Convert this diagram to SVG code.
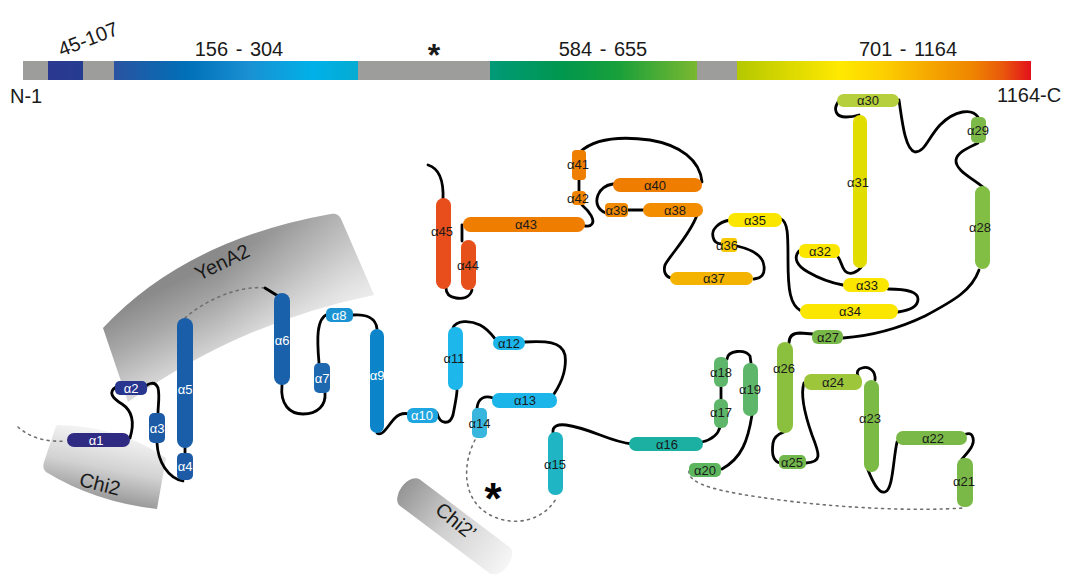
<svg xmlns="http://www.w3.org/2000/svg" width="1066" height="574" viewBox="0 0 1066 574">
  <defs>
    <linearGradient id="gBlue" x1="114" y1="0" x2="358" y2="0" gradientUnits="userSpaceOnUse">
      <stop offset="0" stop-color="#2a53a0"/>
      <stop offset="0.3" stop-color="#0070b8"/>
      <stop offset="0.55" stop-color="#1a90d2"/>
      <stop offset="0.82" stop-color="#00b1e8"/>
      <stop offset="1" stop-color="#05abd2"/>
    </linearGradient>
    <linearGradient id="gNavy" x1="48" y1="0" x2="83" y2="0" gradientUnits="userSpaceOnUse">
      <stop offset="0" stop-color="#2c3890"/>
      <stop offset="1" stop-color="#243c8f"/>
    </linearGradient>
    <linearGradient id="gGreen" x1="490" y1="0" x2="697" y2="0" gradientUnits="userSpaceOnUse">
      <stop offset="0" stop-color="#009a78"/>
      <stop offset="0.35" stop-color="#00974e"/>
      <stop offset="0.62" stop-color="#19a03a"/>
      <stop offset="1" stop-color="#7ab830"/>
    </linearGradient>
    <linearGradient id="gWarm" x1="737" y1="0" x2="1031" y2="0" gradientUnits="userSpaceOnUse">
      <stop offset="0" stop-color="#b3c800"/>
      <stop offset="0.18" stop-color="#dcd900"/>
      <stop offset="0.35" stop-color="#ffe900"/>
      <stop offset="0.5" stop-color="#fccf00"/>
      <stop offset="0.66" stop-color="#f5a600"/>
      <stop offset="0.8" stop-color="#ef8500"/>
      <stop offset="0.9" stop-color="#e95a0c"/>
      <stop offset="1" stop-color="#e3101b"/>
    </linearGradient>
    <linearGradient id="gYen" x1="146" y1="296" x2="212" y2="430" gradientUnits="userSpaceOnUse">
      <stop offset="0" stop-color="#8a8a8a"/>
      <stop offset="0.25" stop-color="#a9a9a9"/>
      <stop offset="0.55" stop-color="#d6d6d6"/>
      <stop offset="0.8" stop-color="#f4f4f4"/>
      <stop offset="1" stop-color="#ffffff"/>
    </linearGradient>
    <linearGradient id="gYenFade" x1="220" y1="0" x2="345" y2="0" gradientUnits="userSpaceOnUse">
      <stop offset="0" stop-color="#ffffff" stop-opacity="0"/>
      <stop offset="1" stop-color="#ffffff" stop-opacity="0.3"/>
    </linearGradient>
    <linearGradient id="gChi" x1="112" y1="428" x2="96" y2="507" gradientUnits="userSpaceOnUse">
      <stop offset="0" stop-color="#f8f8f8"/>
      <stop offset="0.5" stop-color="#d2d2d2"/>
      <stop offset="1" stop-color="#8a8a8a"/>
    </linearGradient>
    <linearGradient id="gChiP" x1="0" y1="0" x2="1" y2="0">
      <stop offset="0" stop-color="#959595"/>
      <stop offset="0.45" stop-color="#d0d0d0"/>
      <stop offset="1" stop-color="#f6f6f6"/>
    </linearGradient>
    <style>
      .lbl { font-family: "Liberation Sans", Arial, sans-serif; font-size: 13px; text-anchor: middle; }
      .w { fill: #ffffff; }
      .k { fill: #1a1a1a; }
      .big { font-family: "Liberation Sans", Arial, sans-serif; font-size: 20px; fill: #1a1a1a; }
      .link { fill: none; stroke: #000000; stroke-width: 2.8; stroke-linecap: round; }
      .dot { fill: none; stroke: #6f6f6f; stroke-width: 1.6; stroke-dasharray: 2 4.5; stroke-linecap: round; }
    </style>
  </defs>

  <rect width="1066" height="574" fill="#ffffff"/>

  <!-- sequence bar -->
  <g id="bar">
    <rect x="23" y="61" width="25" height="19" fill="#9d9d9c"/>
    <rect x="48" y="61" width="35" height="19" fill="url(#gNavy)"/>
    <rect x="83" y="61" width="31" height="19" fill="#9d9d9c"/>
    <rect x="114" y="61" width="244" height="19" fill="url(#gBlue)"/>
    <rect x="358" y="61" width="132" height="19" fill="#9d9d9c"/>
    <rect x="490" y="61" width="207" height="19" fill="url(#gGreen)"/>
    <rect x="697" y="61" width="40" height="19" fill="#9d9d9c"/>
    <rect x="737" y="61" width="294" height="19" fill="url(#gWarm)"/>
    <text class="big" x="88" y="46" text-anchor="middle" transform="rotate(-21 88 39)">45-107</text>
    <text class="big" x="239" y="56" text-anchor="middle" word-spacing="2">156 - 304</text>
    <text x="434" y="66" text-anchor="middle" font-family="Liberation Sans, Arial, sans-serif" font-size="32" font-weight="bold" fill="#1a1a1a">*</text>
    <text class="big" x="603" y="56" text-anchor="middle" word-spacing="2">584 - 655</text>
    <text class="big" x="908" y="56" text-anchor="middle" word-spacing="2">701 - 1164</text>
    <text class="big" x="10" y="103">N-1</text>
    <text class="big" x="997" y="102">1164-C</text>
  </g>

  <!-- binding partners -->
  <g id="yena2">
    <path d="M103,328 Q185,240 331,214 Q338,213 341,219 L374,295 Q240,322 128,402 Z" fill="url(#gYen)"/>
    <path d="M103,328 Q185,240 331,214 Q338,213 341,219 L374,295 Q240,322 128,402 Z" fill="url(#gYenFade)"/>
    <text class="big" x="222" y="269" font-size="21" text-anchor="middle" transform="rotate(-26 222 262)">YenA2</text>
  </g>
  <g id="chi2">
    <path d="M58,425 Q120,426 166,458 L157,509 Q95,502 46,472 Q42,468 44,462 L55,429 Q56,425 58,425 Z" fill="url(#gChi)"/>
    <text class="big" x="100" y="491" font-size="21" text-anchor="middle" transform="rotate(14 100 484)">Chi2</text>
  </g>
  <g id="chi2p">
    <rect x="-66" y="-16" width="132" height="33" rx="10" ry="16" fill="url(#gChiP)" transform="translate(455,526) rotate(37)"/>
    <text class="big" x="456" y="528" font-size="21" text-anchor="middle" transform="rotate(39 456 521)">Chi2’</text>
  </g>

  <!-- loops between helices -->
  <g id="connectors">
    <path class="dot" d="M18,427 Q36,443 66,441"/>
    <path class="link" d="M130,438 C134,425 134,412 122,404 C112,398 108,392 116,387"/>
    <path class="link" d="M143,391 C146,383 155,380 158,388 C160,396 158,405 158,413"/>
    <path class="link" d="M157,443 C158,462 168,478 183,481"/>
    <path class="link" d="M185,447 L185,454"/>
    <path class="dot" d="M185,318 C205,300 240,285 265,288"/>
    <path class="link" d="M265,288 L278,296"/>
    <path class="link" d="M282,385 C280,405 290,414 303,414 C318,414 326,405 325,393"/>
    <path class="link" d="M319,363 C317,340 316,318 328,314"/>
    <path class="link" d="M353,315 C366,314 376,318 377,329"/>
    <path class="link" d="M377,433 C383,437 388,425 395,418 C400,413 405,413 409,414"/>
    <path class="link" d="M437,413 C440,425 450,425 453,415 C455,405 457,395 457,390"/>
    <path class="link" d="M453,328 C456,320 470,320 480,325 C488,329 492,335 496,340"/>
    <path class="link" d="M525,342 C545,341 562,341 565,355 C567,370 560,385 554,394"/>
    <path class="link" d="M493,398 C485,395 478,398 477,408"/>
    <path class="dot" d="M475,440 C462,465 462,500 490,515 C515,528 545,520 557,497"/>
    <path class="link" d="M553,433 C552,426 558,424 566,425 C590,428 610,442 632,444"/>
    <path class="link" d="M702,442 C710,440 718,435 720,427"/>
    <path class="link" d="M721,386 L721,400"/>
    <path class="link" d="M727,359 C728,350 745,349 750,356 L751,363"/>
    <path class="link" d="M752,415 C748,440 742,458 722,469"/>
    <path class="dot" d="M689,471 C688,485 720,492 780,500 C850,509 920,511 963,508"/>
    <path class="link" d="M962,459 C968,452 975,445 973,438 C972,434 970,433 966,434"/>
    <path class="link" d="M897,442 C893,460 893,490 885,492 C878,494 872,480 868,470"/>
    <path class="link" d="M875,380 C876,370 868,366 862,368 C858,369 856,372 858,376"/>
    <path class="link" d="M804,383 C800,395 805,415 812,435 C820,455 822,462 806,463"/>
    <path class="link" d="M780,463 C772,461 772,450 773,443 C774,437 778,434 784,432"/>
    <path class="link" d="M789,343 C789,336 793,333 800,333 L813,334"/>
    <path class="link" d="M843,338 C870,336 900,328 925,316 C955,300 972,290 979,270"/>
    <path class="link" d="M983,187 C972,178 955,170 956,160 C957,152 970,147 978,143"/>
    <path class="link" d="M978,117 C972,108 955,110 940,125 C928,138 925,152 915,152 C905,150 902,120 899,100"/>
    <path class="link" d="M838,102 C833,110 836,117 846,117 C852,117 856,116 859,115"/>
    <path class="link" d="M862,266 C858,272 850,276 845,271 C841,266 841,260 838,257"/>
    <path class="link" d="M799,251 C793,258 797,266 808,272 C820,279 832,283 843,285"/>
    <path class="link" d="M888,289 C905,289 918,291 918,299 C918,307 910,310 898,312"/>
    <path class="link" d="M781,219 C788,222 788,235 788,260 C788,290 790,305 801,311"/>
    <path class="link" d="M730,220 C718,222 711,230 713,237 C714,242 718,244 722,244"/>
    <path class="link" d="M737,246 C750,249 763,255 764,266 C765,274 762,278 754,279"/>
    <path class="link" d="M697,215 C690,235 670,255 665,265 C663,272 666,277 671,278"/>
    <path class="link" d="M628,210 L643,210"/>
    <path class="link" d="M606,213 C598,210 595,203 598,195 C601,188 606,185 613,184"/>
    <path class="link" d="M702,182 C700,160 680,145 650,140 C620,136 595,138 580,152"/>
    <path class="link" d="M579,180 L579,191"/>
    <path class="link" d="M582,205 C590,212 595,220 592,224 C590,227 588,226 585,226"/>
    <path class="link" d="M462,225 L462,241"/>
    <path class="link" d="M472,290 C470,298 462,299 456,298 C449,297 446,293 446,288"/>
    <path class="link" d="M428,165 C438,168 444,178 443,200"/>
    <text x="493" y="514" text-anchor="middle" font-family="Liberation Sans, Arial, sans-serif" font-size="44" font-weight="bold" fill="#000000">*</text>
  </g>

  <!-- helices -->
  <g id="a1"><rect x="67" y="433" width="63" height="14" rx="7" fill="#2f2a82"/><text class="lbl w" x="96" y="444.6">α1</text></g>
  <g id="a2"><rect x="115" y="381" width="32" height="14" rx="5" fill="#28368f"/><text class="lbl w" x="131" y="392.6">α2</text></g>
  <g id="a3"><rect x="149" y="413" width="16" height="30" rx="5" fill="#1d5ba7"/><text class="lbl w" x="157" y="432.6">α3</text></g>
  <g id="a4"><rect x="177" y="453" width="16" height="27" rx="5" fill="#1d5ba7"/><text class="lbl w" x="185" y="471">α4</text></g>
  <g id="a5"><rect x="177" y="318" width="16" height="130" rx="8" fill="#1a5ea9"/><text class="lbl w" x="185" y="393.6">α5</text></g>
  <g id="a6"><rect x="274" y="293" width="16" height="92" rx="8" fill="#1961ab"/><text class="lbl w" x="282" y="344.6">α6</text></g>
  <g id="a7"><rect x="314" y="363" width="16" height="30" rx="5" fill="#1e68b0"/><text class="lbl w" x="322" y="382.6">α7</text></g>
  <g id="a8"><rect x="326" y="308" width="27" height="14" rx="5" fill="#1b93d3"/><text class="lbl w" x="339" y="319.6">α8</text></g>
  <g id="a9"><rect x="370" y="329" width="14" height="104" rx="7" fill="#0b84c9"/><text class="lbl w" x="377" y="379.6">α9</text></g>
  <g id="a10"><rect x="407" y="408" width="31" height="15" rx="6" fill="#1fa5e0"/><text class="lbl w" x="422" y="420">α10</text></g>
  <g id="a11"><rect x="448" y="327" width="15" height="63" rx="7" fill="#1db7ec"/><text class="lbl k" x="454" y="362.6">α11</text></g>
  <g id="a12"><rect x="493" y="336" width="32" height="14" rx="7" fill="#1bb5ea"/><text class="lbl k" x="509" y="347.6">α12</text></g>
  <g id="a13"><rect x="492" y="393" width="65" height="15" rx="7" fill="#1bb5ea"/><text class="lbl k" x="525" y="405">α13</text></g>
  <g id="a14"><rect x="472" y="408" width="15" height="30" rx="5" fill="#38b6dd"/><text class="lbl k" x="479.5" y="427.6">α14</text></g>
  <g id="a15"><rect x="548" y="432" width="15" height="63" rx="7" fill="#1fb5c5"/><text class="lbl k" x="555" y="468.6">α15</text></g>
  <g id="a16"><rect x="629" y="437" width="74" height="14" rx="7" fill="#1cb0a3"/><text class="lbl k" x="667" y="448.6">α16</text></g>
  <g id="a17"><rect x="714" y="399" width="14" height="29" rx="6" fill="#5db66a"/><text class="lbl k" x="721" y="416.6">α17</text></g>
  <g id="a18"><rect x="714" y="357" width="14" height="30" rx="6" fill="#5db66a"/><text class="lbl k" x="721" y="376.6">α18</text></g>
  <g id="a19"><rect x="743" y="363" width="15" height="53" rx="7" fill="#5db66a"/><text class="lbl k" x="750" y="393.6">α19</text></g>
  <g id="a20"><rect x="689" y="463" width="32" height="14" rx="5" fill="#5db65e"/><text class="lbl k" x="705" y="474.6">α20</text></g>
  <g id="a21"><rect x="957" y="458" width="16" height="49" rx="7" fill="#7ab947"/><text class="lbl k" x="964" y="485.6">α21</text></g>
  <g id="a22"><rect x="896" y="431" width="71" height="14" rx="7" fill="#7ab947"/><text class="lbl k" x="933" y="442.6">α22</text></g>
  <g id="a23"><rect x="864" y="380" width="15" height="92" rx="7.5" fill="#7cba46"/><text class="lbl k" x="870" y="422.6">α23</text></g>
  <g id="a24"><rect x="804" y="374" width="58" height="16" rx="7" fill="#9dc63b"/><text class="lbl k" x="833" y="386.6">α24</text></g>
  <g id="a25"><rect x="779" y="455" width="27" height="14" rx="5" fill="#72b74b"/><text class="lbl k" x="792" y="466.6">α25</text></g>
  <g id="a26"><rect x="777" y="342" width="16" height="91" rx="8" fill="#8bc03f"/><text class="lbl k" x="784" y="372.6">α26</text></g>
  <g id="a27"><rect x="812" y="330" width="31" height="14" rx="6" fill="#78b848"/><text class="lbl k" x="828" y="341.6">α27</text></g>
  <g id="a28"><rect x="975" y="186" width="15" height="83" rx="7.5" fill="#82bd44"/><text class="lbl k" x="980" y="231.6">α28</text></g>
  <g id="a29"><rect x="971" y="117" width="15" height="26" rx="5" fill="#7cb948"/><text class="lbl k" x="978" y="134.6">α29</text></g>
  <g id="a30"><rect x="837" y="94" width="62" height="13" rx="6.5" fill="#b5d03c"/><text class="lbl k" x="868" y="105">α30</text></g>
  <g id="a31"><rect x="853" y="115" width="14" height="153" rx="7" fill="#e2dd00"/><text class="lbl k" x="858" y="186.6">α31</text></g>
  <g id="a32"><rect x="799" y="244" width="41" height="14" rx="6" fill="#fbe600"/><text class="lbl k" x="820" y="255.6">α32</text></g>
  <g id="a33"><rect x="843" y="278" width="46" height="14" rx="7" fill="#fbe600"/><text class="lbl k" x="867" y="289.6">α33</text></g>
  <g id="a34"><rect x="800" y="304" width="98" height="15" rx="7.5" fill="#fbe600"/><text class="lbl k" x="850" y="316">α34</text></g>
  <g id="a35"><rect x="728" y="213" width="54" height="14" rx="7" fill="#fbe600"/><text class="lbl k" x="755" y="224.6">α35</text></g>
  <g id="a36"><rect x="721" y="238" width="16" height="14" rx="3" fill="#f7c900"/><text class="lbl k" x="727" y="249.6">α36</text></g>
  <g id="a37"><rect x="670" y="272" width="83" height="13" rx="6.5" fill="#f3b300"/><text class="lbl k" x="714" y="283">α37</text></g>
  <g id="a38"><rect x="643" y="203" width="60" height="14" rx="7" fill="#f28e00"/><text class="lbl k" x="675" y="214.6">α38</text></g>
  <g id="a39"><rect x="605" y="203" width="23" height="14" rx="4" fill="#f18a00"/><text class="lbl k" x="616.5" y="214.6">α39</text></g>
  <g id="a40"><rect x="613" y="178" width="89" height="14" rx="7" fill="#ef7d00"/><text class="lbl k" x="655" y="189.6">α40</text></g>
  <g id="a41"><rect x="572" y="150" width="14" height="30" rx="4" fill="#ef7f00"/><text class="lbl k" x="578" y="168.6">α41</text></g>
  <g id="a42"><rect x="572" y="191" width="14" height="14" rx="4" fill="#f08300"/><text class="lbl k" x="578" y="202.6">α42</text></g>
  <g id="a43"><rect x="463" y="217" width="122" height="15" rx="7.5" fill="#ef7d00"/><text class="lbl k" x="526" y="229">α43</text></g>
  <g id="a44"><rect x="461" y="240" width="15" height="50" rx="7.5" fill="#e6501b"/><text class="lbl k" x="468" y="269.6">α44</text></g>
  <g id="a45"><rect x="436" y="198" width="15" height="91" rx="7.5" fill="#e84e1b"/><text class="lbl k" x="442" y="235.6">α45</text></g>
</svg>
